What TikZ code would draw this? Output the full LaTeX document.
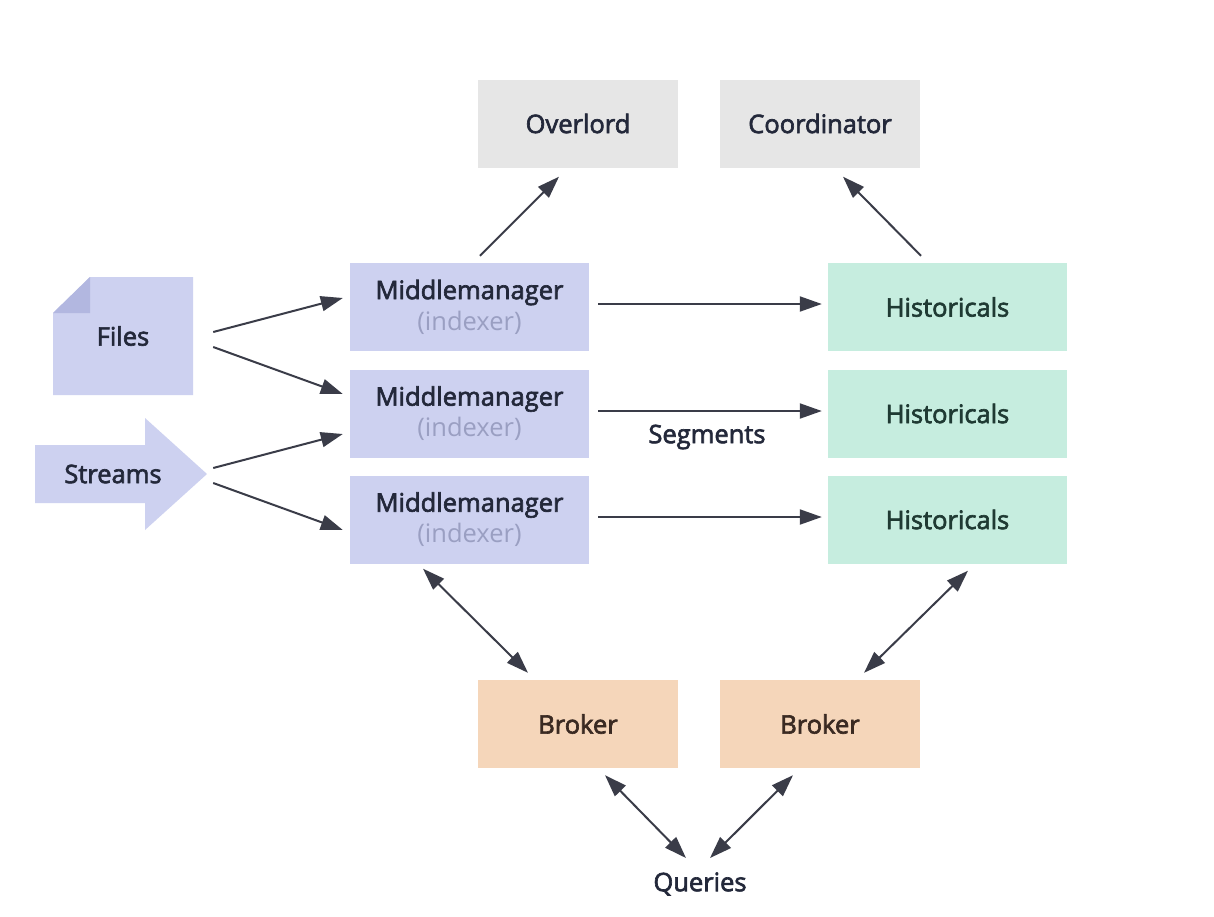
\documentclass[tikz,border=0pt]{standalone}
\usepackage{fontspec}
\setmainfont{Open Sans}
\newfontfamily\semib{Open Sans}[FakeBold=2.5]
\usetikzlibrary{arrows.meta,calc}
\definecolor{txt}{HTML}{23283A}
\definecolor{grayfill}{HTML}{E6E6E6}
\definecolor{mmfill}{HTML}{CDD1F0}
\definecolor{foldfill}{HTML}{B2B7E0}
\definecolor{histfill}{HTML}{C6EDDF}
\definecolor{brokfill}{HTML}{F5D6BA}
\definecolor{idx}{HTML}{9A9FC2}
\definecolor{arrc}{HTML}{3A3C48}
\definecolor{brtxt}{HTML}{3A2A22}
\definecolor{hitxt}{HTML}{1F3A33}
\tikzset{
  box/.style={rectangle, inner sep=0pt, minimum width=#1, minimum height=88pt, align=center,
    font=\semib\fontsize{25.5}{31}\selectfont, text=txt},
  box/.default=200pt,
  arr/.style={draw=arrc, line width=2pt, -{Triangle[length=22pt,width=15pt]}},
  darr/.style={draw=arrc, line width=2pt, {Triangle[length=22pt,width=15pt]}-{Triangle[length=22pt,width=15pt]}},
  lbl/.style={inner sep=0pt, font=\semib\fontsize{25.5}{28}\selectfont, text=txt},
}
\begin{document}
\begin{tikzpicture}[x=1pt,y=-1pt]
\useasboundingbox[fill=white] (0,0) rectangle (1214,916);
% top
\node[box, fill=grayfill] (over) at (578,123.5) {Overlord};
\node[box, fill=grayfill] (coord) at (820,123.5) {Coordinator};
% middlemanagers
\node[box=239pt, fill=mmfill] (mm1) at (469.5,307) {\raisebox{-3pt}{Middlemanager}\\{\fontspec{Open Sans}\color{idx}\raisebox{-3pt}{(indexer)}}};
\node[box=239pt, fill=mmfill] (mm2) at (469.5,413.5) {\raisebox{-3pt}{Middlemanager}\\{\fontspec{Open Sans}\color{idx}\raisebox{-3pt}{(indexer)}}};
\node[box=239pt, fill=mmfill] (mm3) at (469.5,519.5) {\raisebox{-3pt}{Middlemanager}\\{\fontspec{Open Sans}\color{idx}\raisebox{-3pt}{(indexer)}}};
% historicals
\node[box=239pt, fill=histfill, text=hitxt] (h1) at (947.5,307) {Historicals};
\node[box=239pt, fill=histfill, text=hitxt] (h2) at (947.5,413.5) {Historicals};
\node[box=239pt, fill=histfill, text=hitxt] (h3) at (947.5,519.5) {Historicals};
% brokers
\node[box, fill=brokfill, text=brtxt] (b1) at (578,724) {Broker};
\node[box, fill=brokfill, text=brtxt] (b2) at (820,724) {Broker};
% files
\fill[mmfill] (53,313) -- (90,277) -- (193,277) -- (193,395) -- (53,395) -- cycle;
\fill[foldfill] (53,313) -- (90,277) -- (90,313) -- cycle;
\node[box=140pt, minimum height=118pt] (files) at (123,336) {\raisebox{-4pt}{Files}};
% streams
\fill[mmfill] (35,445) -- (145,445) -- (145,418) -- (207,474) -- (145,530) -- (145,503) -- (35,503) -- cycle;
\node[box=172pt, minimum height=60pt] (streams) at (121,474) {\hspace*{-16pt}Streams};
% labels
\node[lbl] (seg) at (707,437) {Segments};
\node[lbl] (q) at (700,884) {Queries};
% connectors
\draw[arr] ([shift={(20,-4)}]files.east) -- ([shift={(-7,-9)}]mm1.west);
\draw[arr] ([shift={(20,11)}]files.east) -- ([shift={(-7,-19.5)}]mm2.west);
\draw[arr] ([shift={(6,-6)}]streams.east) -- ([shift={(-7,20.5)}]mm2.west);
\draw[arr] ([shift={(6,9)}]streams.east) -- ([shift={(-7,10.5)}]mm3.west);
\draw[arr] ([shift={(10.5,-7)}]mm1.north) -- ([shift={(-19,9)}]over.south);
\draw[arr] ([shift={(-26.5,-7)}]h1.north) -- ([shift={(23,9)}]coord.south);
\draw[arr] ([shift={(9,-3)}]mm1.east) -- ([shift={(-6,-3)}]h1.west);
\draw[arr] ([shift={(9,-2.5)}]mm2.east) -- ([shift={(-6,-2.5)}]h2.west);
\draw[arr] ([shift={(9,-2.5)}]mm3.east) -- ([shift={(-6,-2.5)}]h3.west);
\draw[darr] ([shift={(-46.5,5)}]mm3.south) -- ([shift={(-50,-7)}]b1.north);
\draw[darr] ([shift={(20.5,7)}]h3.south) -- ([shift={(44,-7)}]b2.north);
\draw[darr] ([shift={(27,7)}]b1.south) -- ([shift={(-14,-26)}]q.center);
\draw[darr] ([shift={(-27,7)}]b2.south) -- ([shift={(10,-26)}]q.center);
\end{tikzpicture}
\end{document}
